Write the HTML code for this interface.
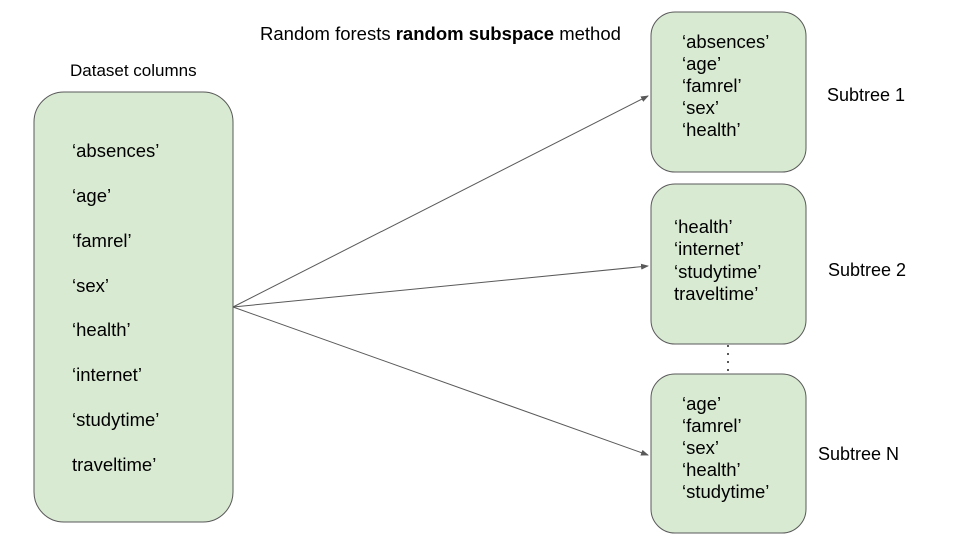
<!DOCTYPE html>
<html><head><meta charset="utf-8"><style>
html,body{margin:0;padding:0;background:#fff;}
svg{display:block;font-family:"Liberation Sans",Arial,sans-serif;}
</style></head><body>
<svg width="960" height="540" viewBox="0 0 960 540" xmlns="http://www.w3.org/2000/svg">
<defs><marker id="a" markerWidth="8" markerHeight="6" refX="7" refY="3" orient="auto" markerUnits="userSpaceOnUse"><path d="M0,0 L8,3 L0,6 Z" fill="#595959"/></marker></defs>
<g fill="#d9ead3" stroke="#595959" stroke-width="1">
<rect x="34" y="92" width="199" height="430" rx="30"/>
<rect x="651" y="12" width="155" height="160" rx="24"/>
<rect x="651" y="184" width="155" height="160" rx="24"/>
<rect x="651" y="374" width="155" height="159" rx="24"/>
</g>
<g stroke="#595959" stroke-width="1" marker-end="url(#a)">
<line x1="233" y1="307" x2="648" y2="96"/>
<line x1="233" y1="307" x2="648" y2="266"/>
<line x1="233" y1="307" x2="648" y2="455"/>
</g>
<line x1="728" y1="345" x2="728" y2="373" stroke="#595959" stroke-width="2" stroke-dasharray="2,6"/>
<g font-size="18.5" fill="#000">
<text x="260" y="40">Random forests <tspan font-weight="bold">random subspace</tspan> method</text>
<text x="70" y="76" font-size="17">Dataset columns</text>
<text x="72" y="157">‘absences’</text>
<text x="72" y="202">‘age’</text>
<text x="72" y="247">‘famrel’</text>
<text x="72" y="292">‘sex’</text>
<text x="72" y="336">‘health’</text>
<text x="72" y="381">‘internet’</text>
<text x="72" y="426">‘studytime’</text>
<text x="72" y="471">traveltime’</text>
<text x="682" y="48">‘absences’</text>
<text x="682" y="70">‘age’</text>
<text x="682" y="92">‘famrel’</text>
<text x="682" y="114">‘sex’</text>
<text x="682" y="136">‘health’</text>
<text x="674" y="233">‘health’</text>
<text x="674" y="255">‘internet’</text>
<text x="674" y="278">‘studytime’</text>
<text x="674" y="300">traveltime’</text>
<text x="682" y="410">‘age’</text>
<text x="682" y="432">‘famrel’</text>
<text x="682" y="454">‘sex’</text>
<text x="682" y="476">‘health’</text>
<text x="682" y="498">‘studytime’</text>
<text x="827" y="101" font-size="18">Subtree 1</text>
<text x="828" y="276" font-size="18">Subtree 2</text>
<text x="818" y="460" font-size="18">Subtree N</text>
</g>
</svg>
</body></html>
